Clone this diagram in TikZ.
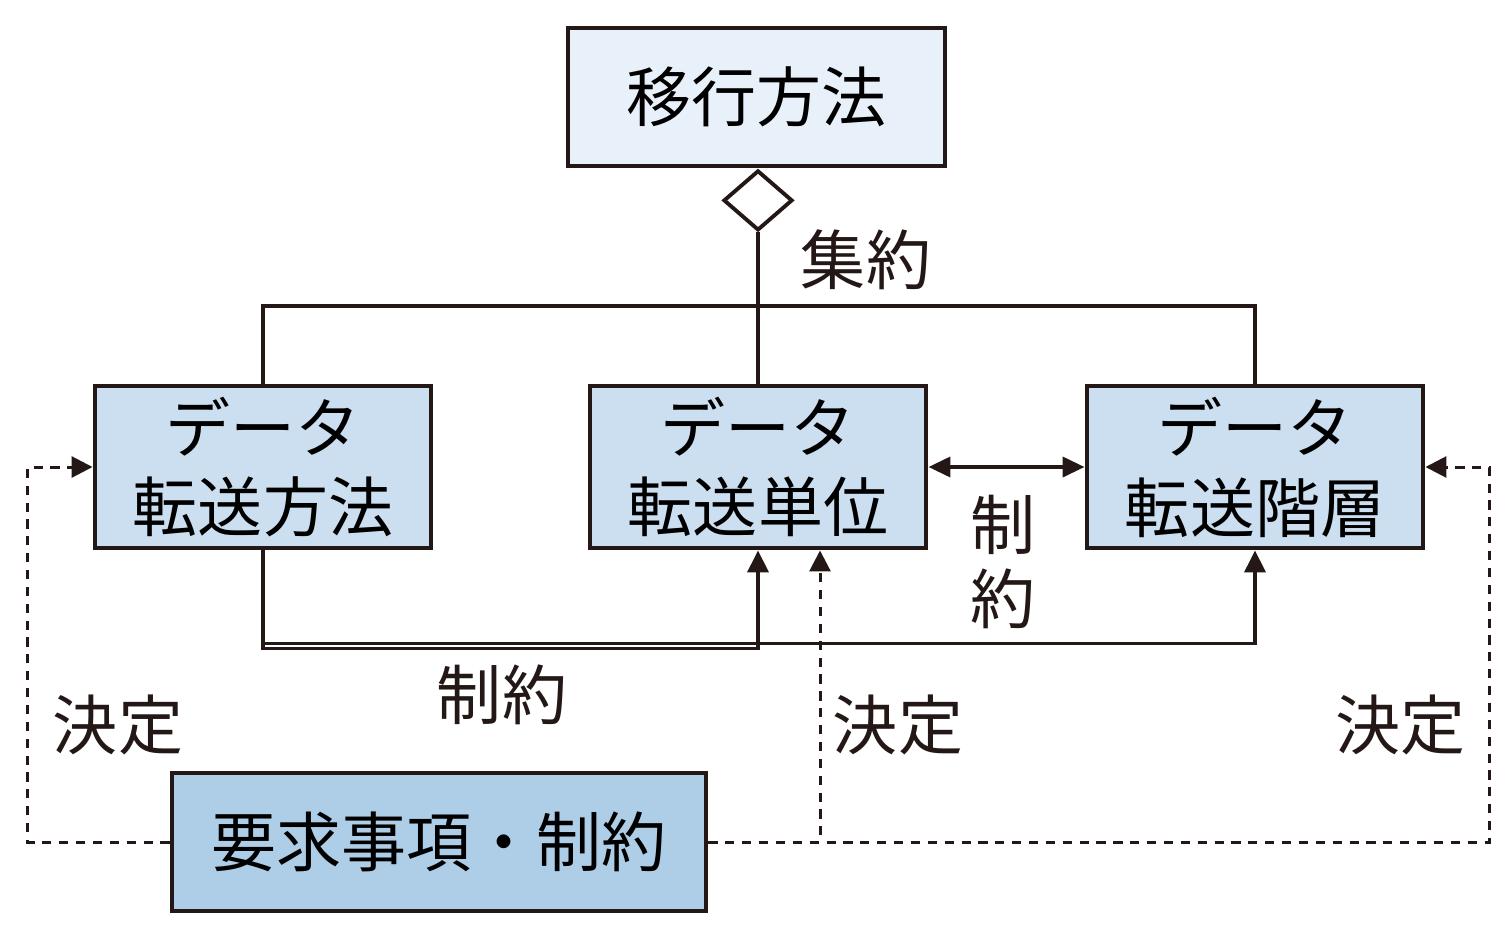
\documentclass[tikz,border=0pt]{standalone}
\usepackage{fontspec}
\usepackage{xcolor}
\usepackage{tikz}
\usetikzlibrary{positioning, arrows.meta, shapes.geometric}
\newfontfamily\jpfont{Noto Sans CJK JP}
\definecolor{inkline}{HTML}{231815}
\definecolor{topfill}{HTML}{E8F0F9}
\definecolor{midfill}{HTML}{CCDFF1}
\definecolor{reqfill}{HTML}{AECDE7}

\begin{document}
\begin{tikzpicture}[
    font=\jpfont\fontsize{18.5}{22.7}\selectfont,
    method/.style={rectangle, draw=inkline, fill=topfill, line width=1.4pt, minimum width=3.77cm, minimum height=1.38cm, align=center},
    part/.style={rectangle, draw=inkline, fill=midfill, line width=1.4pt, minimum width=3.36cm, minimum height=1.62cm, align=center, inner sep=0pt},
    reqbox/.style={rectangle, draw=inkline, fill=reqfill, line width=1.4pt, minimum width=5.34cm, minimum height=1.38cm, align=center},
    agg/.style={diamond, draw=inkline, fill=white, line width=1.1pt, inner sep=0pt, minimum width=0.69cm, minimum height=0.6cm},
    plain_edge/.style={draw=inkline, line width=1.1pt},
    limit_edge/.style={-{Triangle[length=0.22cm, width=0.21cm]}, draw=inkline, line width=1.1pt},
    both_edge/.style={{Triangle[length=0.22cm, width=0.2cm]}-{Triangle[length=0.22cm, width=0.2cm]}, draw=inkline, line width=1.1pt},
    decide_edge/.style={-{Triangle[length=0.21cm, width=0.21cm]}, draw=inkline, line width=0.85pt, dash pattern=on 2.6pt off 2.2pt},
    lbl/.style={text=inkline, inner sep=0pt}
]
\useasboundingbox (0,0) rectangle (14.99,-9.41);

\node[method] (top) at (7.565,-0.97) {移行方法};
\node[part] (xfer) at (2.63,-4.67) {データ\\転送方法};
\node[part] (unit) at (7.58,-4.67) {データ\\転送単位};
\node[part] (tier) at (12.55,-4.67) {データ\\転送階層};
\node[agg, anchor=north] (dia) at (unit.north |- top.south) {};
\node[reqbox] (req) at (4.39,-8.42) {要求事項・制約};
\coordinate (junc) at (7.58,-3.06);

% aggregation
\draw[plain_edge] (dia.south) -- (unit.north);
\draw[plain_edge] (xfer.north) |- (junc) -| (tier.north);
\node[lbl] (aggl) at (8.66,-2.60) {集約};

% constraints
\draw[both_edge] (unit.east) -- (tier.west);
\node[lbl, align=center, font=\jpfont\fontsize{18.5}{20.8}\selectfont] (conl1) at (10.03,-5.62) {制\\約};
\draw[limit_edge] (xfer.south) -- ++(0,-0.98) -| (unit.south);
\draw[limit_edge] (xfer.south) -- ++(0,-0.93) -| (tier.south);
\node[lbl] (conl2) at (5.02,-6.95) {制約};

% decisions
\draw[decide_edge] (req.west) -- ++(-1.42,0) |- (xfer.west);
\draw[decide_edge] (req.east) -| ([xshift=0.62cm]unit.south);
\draw[decide_edge] (req.east) -- ++(7.81,0) |- (tier.east);
\node[lbl] (decl1) at (1.18,-7.25) {決定};
\node[lbl] (decl2) at (8.98,-7.25) {決定};
\node[lbl] (decl3) at (14.00,-7.25) {決定};
\end{tikzpicture}
\end{document}
